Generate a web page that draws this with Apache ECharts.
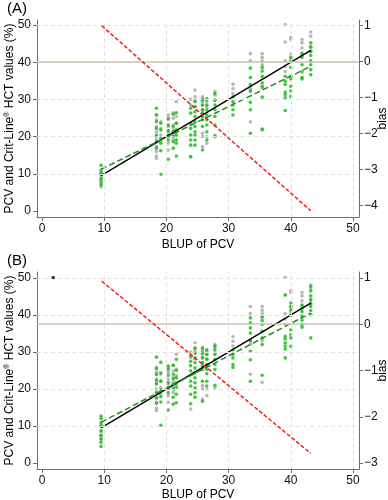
<!DOCTYPE html>
<html><head><meta charset="utf-8">
<script src="https://cdn.jsdelivr.net/npm/echarts@6/dist/echarts.min.js"></script>
<style>html,body{margin:0;padding:0;background:#fff}#c{width:388px;height:500px}</style>
</head><body><div id="c"></div>
<script>
// ---- tick labels ----
const xTicks = [0, 10, 20, 30, 40, 50];
const yTicks = [0, 10, 20, 30, 40, 50];
const biasTicksA = [-4, -3, -2, -1, 0, 1];
const biasTicksB = [-3, -2, -1, 0, 1];

// ---- BLUP of PCV columns (x) ----
const blupCols = [9.5, 18.4, 19.1, 20.3, 21.1, 21.6, 23.9, 24.6, 25.8, 26.5, 27.8, 30.7, 33.5, 35.4, 39.1, 40.0, 41.8, 43.2];

// ---- PCV values (grey), same in both panels ----
const pcvVals = [
  [10.0, 8.5, 7.4, 6.5],
  [25.8, 24.5, 22.7, 21.3, 20.0, 19.1, 17.3, 16.0, 14.8, 14.2],
  [24.0, 22.2, 20.4, 18.6],
  [25.8, 24.5, 22.7, 21.3, 20.0, 18.2, 16.4],
  [26.4, 24.9, 23.1, 21.8, 20.4, 19.1],
  [29.4, 25.4, 23.6, 21.3],
  [30.0, 28.5, 14.6],
  [32.5, 30.7, 29.8, 28.1],
  [30.7, 30.2, 29.4, 28.5, 27.2, 26.3, 20.9, 20.0, 17.3],
  [30.2, 29.4, 28.1, 20.0, 18.2],
  [32.1, 31.2, 29.8, 20.4],
  [34.1, 32.9, 31.6],
  [42.3, 40.4, 33.0, 32.1, 24.0],
  [42.3, 41.3, 40.4, 39.3, 33.0, 21.8],
  [50.1, 45.4, 40.4, 38.9, 37.5],
  [46.6, 46.1, 42.2, 40.8],
  [46.1, 45.2, 43.8, 42.5],
  [48.1, 47.0, 44.3, 42.9]
];

// ---- Crit-Line HCT values (green), panel A ----
const hctValsA = [
  [12.3, 11.0, 10.3, 9.7, 8.8, 7.9, 7.0],
  [27.6, 25.8, 24.0, 22.2, 20.4, 18.6, 16.9],
  [23.6, 21.8, 19.5, 18.2, 16.2, 9.9],
  [24.9, 23.1, 21.6, 20.4, 19.1, 13.9],
  [26.0, 22.7, 21.3, 20.0, 18.6, 16.9],
  [26.4, 23.6, 21.8, 20.4, 19.1, 18.2, 14.8],
  [27.6, 26.3, 23.6, 22.2, 20.4, 19.1, 17.7, 14.6],
  [29.4, 28.1, 26.7, 25.4, 24.0, 22.7, 21.3, 20.4, 19.1, 17.7],
  [29.8, 28.5, 27.2, 26.3, 25.4, 24.5, 22.7, 16.4],
  [30.0, 28.5, 27.2, 25.8, 24.5, 23.1, 21.3, 19.1],
  [31.6, 29.8, 28.5, 27.2, 25.4, 23.1, 20.0],
  [30.7, 29.4, 28.5, 27.2, 25.8],
  [38.4, 35.9, 34.0, 32.3, 29.2, 27.2, 20.9],
  [38.6, 37.6, 36.2, 34.4, 33.5, 30.6, 22.0],
  [36.2, 34.9, 34.0, 32.0, 31.3, 30.4, 27.0],
  [41.3, 40.2, 38.6, 36.2, 35.5, 33.5, 32.3, 30.8],
  [42.2, 41.3, 39.3, 37.4, 35.9, 35.5],
  [45.2, 44.0, 42.9, 41.8, 40.4, 39.3, 38.0, 36.6]
];

// ---- Crit-Line HCT values (green), panel B ----
const hctValsB = [
  [12.7, 12.0, 10.9, 10.1, 8.7, 7.5, 6.5, 5.6, 4.5],
  [28.6, 25.5, 23.9, 22.3, 21.5, 19.0, 17.7, 16.3],
  [27.2, 24.4, 22.1, 19.7, 17.9, 16.5, 10.2],
  [26.2, 25.3, 23.7, 21.8, 20.4, 19.0, 14.3],
  [26.4, 24.0, 22.7, 21.3, 20.0, 17.8, 15.9],
  [28.0, 25.0, 23.0, 21.7, 20.5, 18.6, 16.3],
  [28.9, 27.5, 26.3, 24.9, 22.1, 20.8, 18.6, 16.0],
  [31.1, 29.7, 28.4, 27.1, 25.7, 24.4, 23.0, 21.7, 20.3, 19.0, 17.8],
  [31.1, 29.7, 28.4, 27.1, 26.2, 25.3, 22.1, 16.7],
  [30.6, 29.3, 28.0, 26.6, 25.3, 24.1, 22.1, 20.8],
  [31.6, 30.6, 29.3, 28.0, 26.6, 25.3, 21.0],
  [30.6, 29.4, 28.4, 26.6, 25.8],
  [39.2, 37.9, 36.5, 35.1, 33.0, 30.2, 27.9, 22.1],
  [39.6, 38.5, 37.4, 35.6, 33.8, 32.0, 23.7],
  [45.4, 34.2, 33.5, 32.5, 31.6, 30.8, 28.4],
  [43.2, 42.3, 41.4, 40.0, 36.0, 34.7, 33.8, 31.5],
  [42.7, 41.8, 40.9, 39.7, 38.6, 37.4, 36.7],
  [47.7, 46.5, 45.2, 44.1, 43.2, 42.3, 41.2, 40.1, 33.8]
];

// ---- fitted lines ----
const fitX = [9.5, 43.2];
const pcvFit = [9.5, 43.2];
const hctFitA = [11.2, 38.9];
const hctFitB = [11.0, 40.5];
const biasFitX = [9.6, 43.2];
const biasFitA = [1.0, -4.14];
const biasFitB = [0.93, -2.79];
const legendDotB = [[1.8, 50.1]];

const FONT = 'Liberation Sans, Arial, sans-serif';
function pts(vals) { const o = []; blupCols.forEach((x, i) => vals[i].forEach(v => o.push([x, v]))); return o; }
function seg(xs, ys) { return [[xs[0], ys[0]], [xs[1], ys[1]]]; }
const minus = v => String(v).replace('-', '\u2212');

const axisCol = '#6e6e6e';
function xAx(gi, gap) {
  return {
    type: 'value', gridIndex: gi, min: -0.8, max: 50.96,
    name: 'BLUP of PCV', nameLocation: 'middle', nameGap: gap, nameMoveOverlap: false,
    nameTextStyle: { fontFamily: FONT, fontSize: 12, color: '#000' },
    axisLine: { show: true, onZero: false, lineStyle: { color: axisCol, width: 1 } },
    axisTick: { show: true, length: 4, customValues: xTicks, lineStyle: { color: axisCol } },
    axisLabel: { customValues: xTicks, margin: 6, fontFamily: FONT, fontSize: 12, color: '#111' },
    splitLine: { show: false }
  };
}
function yLeft(gi, mn, mx) {
  return {
    type: 'value', gridIndex: gi, min: mn, max: mx, position: 'left',
    name: 'PCV and Crit-Line{s|\u00AE} HCT values (%)', nameLocation: 'middle', nameGap: 21, nameRotate: 90, nameMoveOverlap: false,
    nameTextStyle: { fontFamily: FONT, fontSize: 12, color: '#000', rich: { s: { fontFamily: FONT, fontSize: 7, verticalAlign: 'top', padding: [0, 0, 5, 0] } } },
    axisLine: { show: true, onZero: false, lineStyle: { color: axisCol, width: 1 } },
    axisTick: { show: true, length: 4, customValues: yTicks, lineStyle: { color: axisCol } },
    axisLabel: { customValues: yTicks, margin: 6, fontFamily: FONT, fontSize: 12, color: '#111' },
    splitLine: { show: false }
  };
}
function yRight(gi, mn, mx, ticks) {
  return {
    type: 'value', gridIndex: gi, min: mn, max: mx, position: 'right',
    name: 'bias', nameLocation: 'middle', nameGap: 18, nameRotate: 90, nameMoveOverlap: false,
    nameTextStyle: { fontFamily: FONT, fontSize: 12, color: '#000' },
    axisLine: { show: true, onZero: false, lineStyle: { color: axisCol, width: 1 } },
    axisTick: { show: true, length: 4, customValues: ticks, lineStyle: { color: axisCol } },
    axisLabel: { customValues: ticks, margin: 5, fontFamily: FONT, fontSize: 12, color: '#111', formatter: minus },
    splitLine: { show: false }
  };
}
const gridLineStyle = { color: '#e2e2e2', type: [4, 3], width: 1 };
function gridSeries(xi, yi) {
  return {
    type: 'scatter', xAxisIndex: xi, yAxisIndex: yi, data: [], silent: true, z: 1,
    markLine: {
      silent: true, symbol: 'none', label: { show: false }, animation: false,
      lineStyle: gridLineStyle,
      data: xTicks.filter(v => v > 0).map(v => ({ xAxis: v })).concat(yTicks.filter(v => v > 0).map(v => ({ yAxis: v })))
    }
  };
}
function zeroBias(xi, yi) {
  return {
    type: 'scatter', xAxisIndex: xi, yAxisIndex: yi, data: [], silent: true, z: 1,
    markLine: { silent: true, symbol: 'none', label: { show: false }, animation: false,
      lineStyle: { color: '#cdc4b0', type: 'solid', width: 1.6 }, data: [{ yAxis: 0 }] }
  };
}
function panelSeries(xi, yl, yr, hctVals, hctFit, biasFit) {
  return [
    gridSeries(xi, yl),
    zeroBias(xi, yr),
    { type: 'scatter', xAxisIndex: xi, yAxisIndex: yl, data: pts(pcvVals), symbol: 'circle', symbolSize: 3.6,
      itemStyle: { color: '#a6a6a6' }, z: 2, animation: false },
    { type: 'scatter', xAxisIndex: xi, yAxisIndex: yl, data: pts(hctVals), symbol: 'circle', symbolSize: 3.6,
      itemStyle: { color: '#14b814' }, z: 3, animation: false },
    { type: 'line', xAxisIndex: xi, yAxisIndex: yl, data: seg(fitX, pcvFit), symbol: 'none', z: 4,
      lineStyle: { color: '#000', width: 1.4 }, animation: false },
    { type: 'line', xAxisIndex: xi, yAxisIndex: yl, data: seg(fitX, hctFit), symbol: 'none', z: 4,
      lineStyle: { color: '#1a941a', width: 1.5, type: [6, 3] }, animation: false },
    { type: 'line', xAxisIndex: xi, yAxisIndex: yr, data: seg(biasFitX, biasFit), symbol: 'none', z: 5,
      lineStyle: { color: '#ff1a1a', width: 1.5, type: [4, 2] }, animation: false }
  ];
}

const chart = echarts.init(document.getElementById('c'), null, { renderer: 'canvas' });
chart.setOption({
  backgroundColor: '#fff',
  animation: false,
  textStyle: { fontFamily: FONT },
  grid: [
    { left: 37, top: 20, width: 322, height: 197, outerBoundsMode: 'none', containLabel: false },
    { left: 37, top: 272, width: 322, height: 197, outerBoundsMode: 'none', containLabel: false }
  ],
  xAxis: [xAx(0, 22), xAx(1, 20)],
  yAxis: [
    yLeft(0, -1.61, 51.34), yRight(0, -4.313, 1.158, biasTicksA),
    yLeft(1, -1.61, 51.6), yRight(1, -3.129, 1.128, biasTicksB)
  ],
  graphic: [
    { type: 'text', left: 7, top: 1, style: { text: '(A)', font: '15px ' + FONT, fill: '#000' } },
    { type: 'text', left: 7, top: 253, style: { text: '(B)', font: '15px ' + FONT, fill: '#000' } }
  ],
  series: [
    ...panelSeries(0, 0, 1, hctValsA, hctFitA, biasFitA),
    ...panelSeries(1, 2, 3, hctValsB, hctFitB, biasFitB),
    { type: 'scatter', xAxisIndex: 1, yAxisIndex: 2, data: legendDotB, symbol: 'rect', symbolSize: 3,
      itemStyle: { color: '#000' }, z: 6, animation: false }
  ]
});
</script></body></html>
